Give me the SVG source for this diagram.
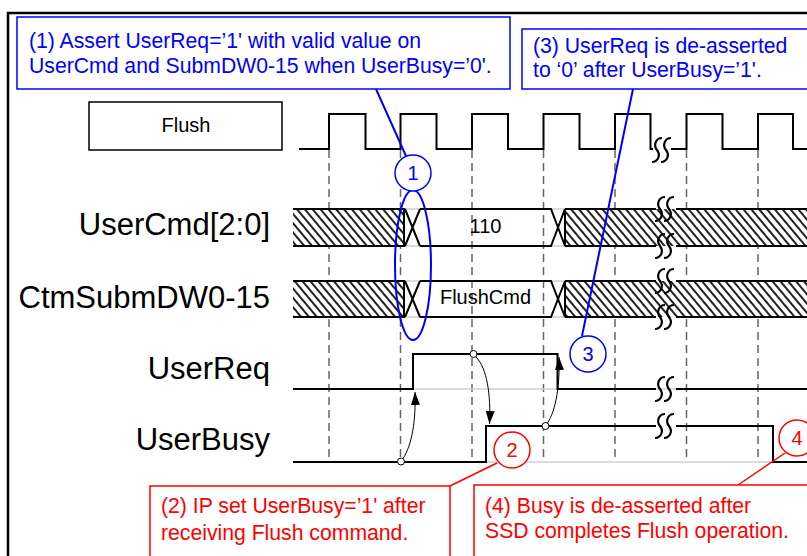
<svg xmlns="http://www.w3.org/2000/svg" width="807" height="556" viewBox="0 0 807 556">
<style>
text{font-family:"Liberation Sans",Arial,sans-serif}
.lbl{font-size:31px;text-anchor:end;fill:#000}
.val{font-size:20px;text-anchor:middle;fill:#000}
.sig{fill:none;stroke:#000;stroke-width:2}
.base{stroke:#cfcfcf;stroke-width:1.5}
.dash{stroke:#666;stroke-width:1.5;stroke-dasharray:8 5}
.arr{fill:none;stroke:#000;stroke-width:1}
.dot{fill:#fff;stroke:#000;stroke-width:1}
.blue{stroke:#0000ff;stroke-width:2;fill:none}
.red{stroke:#ff0000;stroke-width:1.5;fill:none}
.bt{font-size:21.2px;fill:#0000ff}
.rt{font-size:21.2px;fill:#ff0000}
.bn{font-size:20px;fill:#0000ff;text-anchor:middle}
.rn{font-size:20px;fill:#ff0000;text-anchor:middle}
</style>
<defs>
<pattern id="hatch" patternUnits="userSpaceOnUse" width="6" height="6" patternTransform="rotate(-40)">
<rect width="6" height="6" fill="#fff"/>
<line x1="3" y1="-1" x2="3" y2="7" stroke="#222" stroke-width="2"/>
</pattern>
<g id="brk" fill="none" stroke="#000" stroke-width="2.2">
<path d="M0,-12 C-6,-12 -9,-5 -5,0 C-1,5 -4,12 -10,12"/>
<path d="M9,-12 C3,-12 0,-5 4,0 C8,5 5,12 -1,12"/>
</g>
<marker id="ah" viewBox="0 0 13 9" refX="13" refY="4.5" markerWidth="13" markerHeight="9" orient="auto" markerUnits="userSpaceOnUse">
<path d="M0,0 L13,4.5 L0,9 z" fill="#000"/>
</marker>
</defs>
<rect width="807" height="556" fill="#fff"/>
<rect x="8" y="13" width="830" height="570" fill="none" stroke="#000" stroke-width="2.5"/>

<g id="gridlines">
<line class="dash" x1="329" y1="150" x2="329" y2="462"/>
<line class="dash" x1="400.5" y1="150" x2="400.5" y2="462"/>
<line class="dash" x1="472" y1="150" x2="472" y2="462"/>
<line class="dash" x1="543.5" y1="150" x2="543.5" y2="462"/>
<line class="dash" x1="615" y1="150" x2="615" y2="462"/>
<line class="dash" x1="686.5" y1="150" x2="686.5" y2="462"/>
<line class="dash" x1="758" y1="150" x2="758" y2="462"/>
</g>

<g id="flush">
<rect x="89" y="102" width="193" height="48" fill="#fff" stroke="#000" stroke-width="1.5"/>
<text class="val" x="186" y="132">Flush</text>
<path class="sig" d="M299,149 H329 V114 H365.5 V149 H400.5 V114 H436.5 V149 H472 V114 H508 V149 H543.5 V114 H579.5 V149 H615 V114 H650.5 V149 H653"/>
<path class="sig" d="M671,149 H686.5 V114 H722.5 V149 H758 V114 H793 V149 H807"/>
<use href="#brk" x="662" y="150"/>
</g>

<g id="usercmd">
<text class="lbl" x="270" y="235">UserCmd[2:0]</text>
<line class="base" x1="404" y1="209" x2="565" y2="209"/>
<line class="base" x1="404" y1="246" x2="565" y2="246"/>
<rect x="293" y="209" width="111" height="37" fill="url(#hatch)"/>
<rect x="565" y="209" width="242" height="37" fill="url(#hatch)"/>
<path class="sig" d="M293,209 H404 V246 H293"/>
<path class="sig" d="M405,209 L420,246 M405,246 L420,209"/>
<path class="sig" d="M420,209 H551 L565,246 M420,246 H551 L565,209 M565,209 V246"/>
<path class="sig" d="M565,209 H656 M676,209 H807 M565,246 H656 M676,246 H807"/>
<use href="#brk" x="665" y="209"/>
<use href="#brk" x="665" y="246"/>
<text class="val" x="485.5" y="233">110</text>
</g>

<g id="ctmsubm">
<text class="lbl" x="270" y="308">CtmSubmDW0-15</text>
<line class="base" x1="404" y1="281" x2="565" y2="281"/>
<line class="base" x1="404" y1="317" x2="565" y2="317"/>
<rect x="293" y="281" width="111" height="36" fill="url(#hatch)"/>
<rect x="565" y="281" width="242" height="36" fill="url(#hatch)"/>
<path class="sig" d="M293,281 H404 V317 H293"/>
<path class="sig" d="M405,281 L420,317 M405,317 L420,281"/>
<path class="sig" d="M420,281 H551 L565,317 M420,317 H551 L565,281 M565,281 V317"/>
<path class="sig" d="M565,281 H656 M676,281 H807 M565,317 H656 M676,317 H807"/>
<use href="#brk" x="665" y="281"/>
<use href="#brk" x="665" y="317"/>
<text class="val" x="485.5" y="304">FlushCmd</text>
</g>

<g id="userreq">
<text class="lbl" x="270" y="379">UserReq</text>
<line class="base" x1="293" y1="389" x2="807" y2="389"/>
<path class="sig" d="M293,389 H413 V354 H557.5 V389 H656"/>
<path class="sig" d="M676,389 H807"/>
<use href="#brk" x="665" y="389"/>
</g>

<g id="userbusy">
<text class="lbl" x="270" y="450">UserBusy</text>
<line class="base" x1="293" y1="462" x2="807" y2="462"/>
<path class="sig" d="M293,462 H486 V426 H656"/>
<path class="sig" d="M676,426 H773 V462 H807"/>
<use href="#brk" x="665" y="426"/>
</g>

<g id="connectors">
<path class="arr" d="M403,458.5 C412,445 416,420 415,392" marker-end="url(#ah)"/>
<path class="arr" d="M476,357 C487,368 491,395 489.5,424" marker-end="url(#ah)"/>
<path class="arr" d="M547.5,423 C556,410 560,385 559,357" marker-end="url(#ah)"/>
<circle class="dot" cx="401" cy="461.5" r="3.5"/>
<circle class="dot" cx="473.5" cy="354" r="3.5"/>
<circle class="dot" cx="545.5" cy="426" r="3.5"/>
<line class="blue" x1="376" y1="89" x2="406" y2="156"/>
<line class="blue" x1="633" y1="89" x2="582" y2="336"/>
<line class="red" x1="497" y1="463" x2="450" y2="486"/>
<line class="red" x1="785" y1="453" x2="738" y2="485"/>
</g>

<g id="marker1">
<ellipse class="blue" cx="413" cy="265" rx="18" ry="75"/>
<circle cx="413" cy="173" r="18" fill="#fff" stroke="#0000ff" stroke-width="1.5"/>
<text class="bn" x="413" y="180">1</text>
</g>
<g id="marker3">
<circle cx="588" cy="354" r="18" fill="#fff" stroke="#0000ff" stroke-width="1.5"/>
<text class="bn" x="588" y="361">3</text>
</g>
<g id="marker2">
<circle cx="512" cy="450" r="18" fill="#fff" stroke="#ff0000" stroke-width="1.5"/>
<text class="rn" x="512" y="457">2</text>
</g>
<g id="marker4">
<circle cx="797" cy="438" r="18" fill="#fff" stroke="#ff0000" stroke-width="1.5"/>
<text class="rn" x="797" y="445">4</text>
</g>

<g id="note1">
<rect x="17" y="17" width="493" height="72" fill="#fff" stroke="#0000ff" stroke-width="1.5"/>
<text class="bt" x="29" y="48">(1) Assert UserReq=’1' with valid value on</text>
<text class="bt" x="29" y="73">UserCmd and SubmDW0-15 when UserBusy=’0'.</text>
</g>
<g id="note3">
<rect x="522" y="29" width="310" height="60" fill="#fff" stroke="#0000ff" stroke-width="1.5"/>
<text class="bt" x="533" y="53">(3) UserReq is de-asserted</text>
<text class="bt" x="533" y="77">to ‘0’ after UserBusy=’1'.</text>
</g>
<g id="note2">
<rect x="150" y="486" width="300" height="90" fill="#fff" stroke="#ff0000" stroke-width="1.5"/>
<text class="rt" x="161" y="513">(2) IP set UserBusy=’1' after</text>
<text class="rt" x="161" y="540">receiving Flush command.</text>
</g>
<g id="note4">
<rect x="474" y="485" width="360" height="90" fill="#fff" stroke="#ff0000" stroke-width="1.5"/>
<text class="rt" x="485" y="513">(4) Busy is de-asserted after</text>
<text class="rt" x="485" y="538">SSD completes Flush operation.</text>
</g>
</svg>
